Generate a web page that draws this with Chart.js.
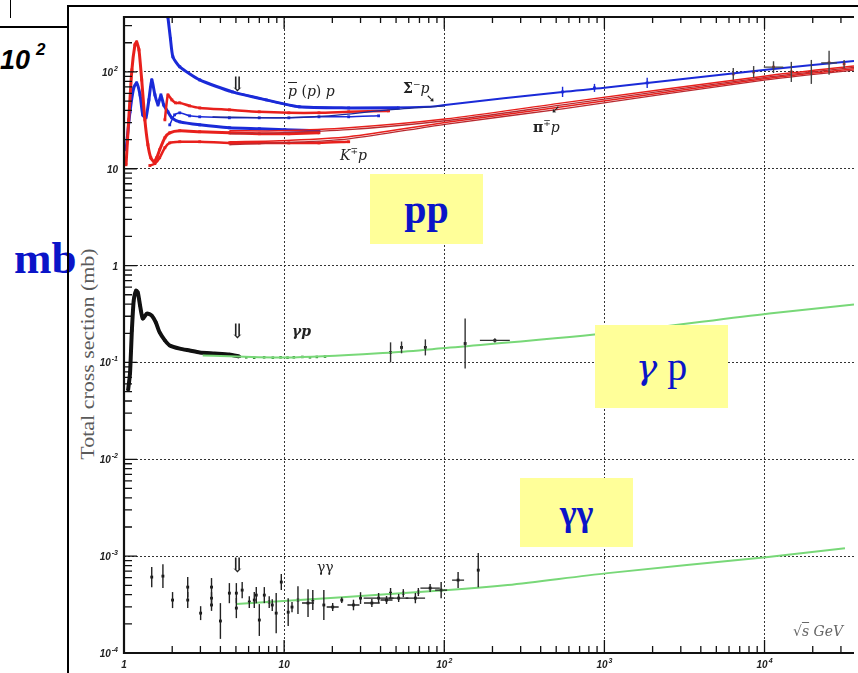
<!DOCTYPE html>
<html>
<head>
<meta charset="utf-8">
<script src="https://cdn.jsdelivr.net/npm/chart.js@4.4.1/dist/chart.umd.min.js"></script>
<style>
  body { margin: 0; background: #fff; width: 858px; height: 673px; overflow: hidden; position: relative; }
  #wrap { position: absolute; left: 0; top: 0; width: 858px; height: 673px; }
  .lbl { position: absolute; white-space: nowrap; line-height: 1; }
  .phys { font-family: "DejaVu Serif", serif; font-size: 14px; color: #222; }
  .box { position: absolute; background: #ffff99; color: #0a14c8; display: flex; align-items: center; justify-content: center; font-family: "Liberation Serif", serif; }
  .ov { text-decoration: overline; }
</style>
</head>
<body>
<div class="lbl" style="left:14px;top:232px;font:bold 45px 'Liberation Serif',serif;color:#0a14c8;">mb</div>
<div style="position:absolute;left:0;top:26px;width:67px;border-top:2px solid #000;"></div>
<div style="position:absolute;left:10px;top:0;height:18px;border-left:1px solid #000;"></div>
<div class="lbl" style="left:0;top:45px;font:bold italic 27px 'Liberation Sans',sans-serif;">10<span style="font-size:17px;position:relative;top:-14px;left:6px;">2</span></div>
<div style="position:absolute;left:67px;top:5px;width:900px;height:700px;border-left:2px solid #000;border-top:2px solid #000;"></div>
<div class="lbl" style="left:88px;top:354px;transform:translate(-50%,-50%) rotate(-90deg) scaleX(1.22);font:18px 'Liberation Serif',serif;color:#5a5a5a;">Total cross section (mb)</div>

<div id="wrap"><canvas id="chart"></canvas></div>

<div class="lbl phys" style="left:229px;top:74px;font-size:20px;">&#8659;</div>
<div class="lbl phys" style="left:229px;top:321px;font-size:20px;">&#8659;</div>
<div class="lbl phys" style="left:229px;top:555px;font-size:20px;">&#8659;</div>
<div class="lbl phys" style="left:288px;top:84px;"><i class="ov">p</i> (<i>p</i>) <i>p</i></div>
<div class="lbl phys" style="left:403px;top:80px;"><b>&Sigma;</b><sup style="font-size:9px">&minus;</sup><i>p</i></div>
<div class="lbl phys" style="left:426px;top:93px;font-size:11px;">&#10136;</div>
<div class="lbl phys" style="left:533px;top:119px;"><b>&pi;</b><sup style="font-size:9px">&#8723;</sup><i>p</i></div>
<div class="lbl phys" style="left:551px;top:104px;font-size:11px;transform:rotate(90deg);">&#10136;</div>
<div class="lbl phys" style="left:340px;top:147px;"><i>K</i><sup style="font-size:9px">&#8723;</sup><i>p</i></div>
<div class="lbl phys" style="left:292px;top:324px;font-weight:bold;font-style:italic;">&gamma;p</div>
<div class="lbl phys" style="left:317px;top:560px;">&gamma;&gamma;</div>
<div class="lbl phys" style="left:793px;top:624px;color:#666;font-style:italic;">&radic;<span class="ov">s</span> GeV</div>

<div class="box" style="left:370px;top:174px;width:113px;height:70px;font-weight:bold;font-size:40px;">pp</div>
<div class="box" style="left:595px;top:325px;width:133px;height:83px;font-size:40px;"><span style="font-family:'DejaVu Serif',serif;font-style:italic;font-size:36px;">&gamma;</span>&nbsp;p</div>
<div class="box" style="left:520px;top:478px;width:113px;height:69px;font-weight:bold;font-size:36px;">&gamma;&gamma;</div>

<script>
// axis tick values
const xTickValues = [1, 10, 100, 1000, 10000];
const yTickValues = [1e-4, 1e-3, 1e-2, 1e-1, 1, 10, 100];

// pbar p (blue, upper)
const pbarpX = [1.88, 1.95, 2.02, 2.23, 2.97, 4.75, 7.73, 12.4, 25.3, 51.7];
const pbarpY = [369, 220, 143, 113, 82.7, 62.2, 51.4, 43.6, 42.5, 42.5];
const fitBlueX = [4.75, 7.73, 12.4, 25.3, 79.6, 101, 548, 1000, 10200, 36200];
const fitBlueY = [62.2, 51.4, 43.6, 42.5, 43.6, 45.6, 62.2, 68.5, 105, 130];

// p p (blue, thin)
const ppX = [1.93, 2.07, 2.23, 2.57, 2.97, 4.55, 6.99, 10.7, 16.5, 25.3, 38.9];
const ppY = [28.4, 36.0, 37.8, 35.2, 34.4, 33.6, 33.6, 33.6, 34.4, 34.4, 35.2];
const ppFitX = [3.57, 9.31, 19.0, 44.9, 101];
const ppFitY = [34.4, 33.6, 35.2, 40.6, 44.6];

// pi- p (blue)
const pimX = [1.03, 1.09, 1.15, 1.2, 1.26, 1.31, 1.37, 1.43, 1.49, 1.56, 1.63, 1.7, 1.77, 1.88, 1.99, 2.23, 2.97, 4.55, 7.0, 10.1, 16.5];
const pimY = [15.7, 38.7, 68.4, 77, 57.9, 36, 33.6, 51.4, 82.7, 57.9, 45.6, 57.9, 45.6, 38.7, 33.6, 30.5, 28.4, 26.5, 25.9, 25.3, 24.7];

// pi+ p (red)
const pipX = [1.03, 1.07, 1.12, 1.17, 1.2, 1.24, 1.29, 1.35, 1.41, 1.47, 1.54, 1.6, 1.67, 1.8, 1.93, 2.23, 2.97, 4.55, 6.99, 10.7, 16.5];
const pipY = [11.0, 32.0, 105, 190, 204, 169, 82.7, 32, 17.7, 13.0, 11.8, 13.0, 15.7, 20.9, 23.5, 24.7, 24.1, 23.5, 23.0, 23.0, 23.5];

// K- p (red, upper) and K+ p (red, lower)
const kmX = [1.8, 1.88, 1.99, 2.1, 2.23, 2.57, 2.97, 4.55, 6.99, 10.7, 16.5, 25.3, 44.9];
const kmY = [32, 57.9, 51.4, 47.9, 47.9, 44.6, 42.5, 40.6, 38.7, 37.8, 37.8, 38.7, 39.6];
const kpX = [1.45, 1.56, 1.67, 1.8, 1.93, 2.23, 2.97, 4.55, 6.99, 10.7, 16.5, 25.3];
const kpY = [10.8, 11.3, 13.0, 16.5, 18.5, 19.0, 19.0, 18.5, 18.5, 18.5, 18.5, 19.0];

// red fits (pi and K, two each)
const redFitX = [4.55, 9.31, 25.3, 101, 548, 10200, 36200];
const piFitAY = [24.7, 24.7, 26.5, 32.6, 47.9, 91, 115.3];
const piFitBY = [23.0, 23.5, 25.3, 31.3, 45.6, 88, 111.6];
const kFitAY = [19.0, 19.5, 21.4, 30.0, 43.6, 85.6, 107.8];
const kFitBY = [17.7, 18.5, 20.4, 28.8, 41.6, 82.7, 104.2];

// high energy p p / pbar p points
const ppHiBlueX = [548, 867, 1850];
const ppHiBlueY = [62.2, 68.4, 77];
const ppHiBlueErr = [0.13, 0.1, 0.13];
const ppHiX = [6380, 8550, 11380, 14700, 19600, 25300, 31400];
const ppHiY = [95.4, 100, 112, 100, 100, 124, 121];
const ppHiErr = [0.15, 0.15, 0.15, 0.27, 0.33, 0.33, 0.1];
const ppHiErrX = [0, 0, 0.15, 0, 0, 0.12, 0];

// gamma p
const gpLowX = [1.06, 1.09, 1.12, 1.15, 1.19, 1.22, 1.26, 1.31, 1.39, 1.49, 1.58, 1.67, 1.8, 1.93, 2.23, 2.57, 2.97, 3.67, 4.55, 5.26];
const gpLowY = [0.0514, 0.077, 0.214, 0.436, 0.552, 0.527, 0.387, 0.284, 0.32, 0.305, 0.259, 0.204, 0.169, 0.15, 0.139, 0.133, 0.127, 0.124, 0.121, 0.115];
const gpMidX = [5.8, 6.5, 7.5, 8.5, 9.5, 10.5, 11.5, 13, 14.5, 16, 18];
const gpMidY = [0.113, 0.112, 0.113, 0.112, 0.113, 0.112, 0.113, 0.114, 0.113, 0.114, 0.115];
const gpFitX = [3.1, 10.3, 46.9, 91.7, 1000, 10700, 36200];
const gpFitY = [0.118, 0.1126, 0.127, 0.139, 0.199, 0.32, 0.396];
const gpHiX = [46.2, 54.1, 76.2, 135, 207];
const gpHiY = [0.127, 0.143, 0.143, 0.157, 0.169];
const gpHiErr = [0.27, 0.15, 0.21, 0.81, 0.05];
const gpHiErrX = [0, 0, 0, 0, 0.24];

// gamma gamma
const ggX = [1.49, 1.75, 2.01, 2.5, 2.5, 3.01, 3.52, 3.52, 3.52, 4.0, 4.55, 5.03, 5.03, 5.47, 6.06, 6.51, 6.7, 7.0, 7.52, 8.07, 8.43, 8.92, 9.6, 10.6, 11.2, 12.2, 14.1, 15.1, 17.7, 20.1, 22.9, 27.1, 30.0, 35.3, 38.9, 43.6, 46.2, 51.9, 55.5, 66.0, 68.9, 81.6, 95.6, 122, 163];
const ggY = [6.08e-4, 6.22e-4, 3.52e-4, 4.79e-4, 3.52e-4, 2.58e-4, 4.79e-4, 3.69e-4, 3.13e-4, 2.14e-4, 4.15e-4, 4.15e-4, 2.91e-4, 4.46e-4, 3.36e-4, 3.52e-4, 3.96e-4, 2.19e-4, 3.96e-4, 3.36e-4, 3.13e-4, 2.58e-4, 5.4e-4, 2.64e-4, 2.98e-4, 3.52e-4, 3.28e-4, 3.52e-4, 3.13e-4, 2.98e-4, 3.52e-4, 3.13e-4, 3.69e-4, 3.28e-4, 3.69e-4, 3.52e-4, 4.15e-4, 3.69e-4, 4.15e-4, 3.69e-4, 4.26e-4, 4.68e-4, 4.46e-4, 5.66e-4, 7.17e-4];
const ggErr = [0.27, 0.33, 0.21, 0.27, 0.21, 0.18, 0.24, 0.15, 0.15, 0.53, 0.27, 0.27, 0.27, 0.21, 0.15, 0.21, 0.21, 0.46, 0.21, 0.15, 0.15, 0.61, 0.21, 0.39, 0.13, 0.39, 0.39, 0.27, 0.43, 0.1, 0.07, 0.13, 0.15, 0.1, 0.13, 0.1, 0.13, 0.1, 0.1, 0.13, 0.1, 0.1, 0.21, 0.21, 0.5];
const ggErrX = [0, 0, 0, 0, 0, 0, 0, 0, 0, 0, 0, 0, 0, 0, 0, 0, 0, 0, 0, 0, 0, 0, 0, 0, 0, 0, 0.09, 0, 0, 0.09, 0, 0.09, 0, 0.12, 0.24, 0.09, 0, 0.15, 0, 0.15, 0, 0.15, 0.09, 0.09, 0];
const ggFitX = [5.03, 106, 249, 1050, 10200, 31800];
const ggFitY = [3.2e-4, 4.46e-4, 5.03e-4, 6.68e-4, 9.76e-4, 1.21e-3];

const BLUE = '#1a2ad8', DBLUE = '#1c2a9a', RED = '#e8201c', DRED = '#b82a30', GREEN = '#78d878';

function pts(xs, ys) { return xs.map((x, i) => ({x: x, y: ys[i]})); }
function fitLine(label, xs, ys, color, width) {
  return {label: label, data: pts(xs, ys), showLine: true, borderColor: color, borderWidth: width, pointRadius: 0, tension: 0.3};
}
function series(label, xs, ys, color, r, lw) {
  return {label: label, data: pts(xs, ys), showLine: lw > 0, borderColor: color, borderWidth: lw,
    pointRadius: r, pointBackgroundColor: color, pointBorderWidth: 0, pointStyle: 'rect', tension: 0.2};
}

const datasets = [
  fitLine('pi fit A', redFitX, piFitAY, RED, 1.5),
  fitLine('pi fit B', redFitX, piFitBY, DRED, 1.3),
  fitLine('K fit A', redFitX, kFitAY, RED, 1.5),
  fitLine('K fit B', redFitX, kFitBY, DRED, 1.3),
  fitLine('pp fit', ppFitX, ppFitY, DBLUE, 1.3),
  fitLine('pbar p fit', fitBlueX, fitBlueY, BLUE, 2),
  series('pi+ p', pipX, pipY, RED, 2, 3),
  series('K+ p', kpX, kpY, RED, 2, 2.5),
  series('K- p', kmX, kmY, RED, 2, 2.5),
  series('pi- p', pimX, pimY, BLUE, 2, 3),
  series('p p', ppX, ppY, BLUE, 2, 1.5),
  series('pbar p', pbarpX, pbarpY, BLUE, 2, 3),
  Object.assign(series('pp hi blue', ppHiBlueX, ppHiBlueY, BLUE, 2, 0), {errY: ppHiBlueErr, errColor: BLUE}),
  Object.assign(series('pp hi', ppHiX, ppHiY, RED, 2, 0), {errY: ppHiErr, errX: ppHiErrX, errColor: '#444'}),
  fitLine('gamma p fit', gpFitX, gpFitY, GREEN, 2),
  series('gamma p low', gpLowX, gpLowY, '#111', 2, 4),
  series('gamma p mid', gpMidX, gpMidY, '#2a8a2a', 1.8, 0),
  Object.assign(series('gamma p hi', gpHiX, gpHiY, '#111', 2, 0), {errY: gpHiErr, errX: gpHiErrX, errColor: '#333'}),
  fitLine('gamma gamma fit', ggFitX, ggFitY, GREEN, 2),
  Object.assign(series('gamma gamma', ggX, ggY, '#111', 2, 0), {errY: ggErr, errX: ggErrX, errColor: '#222'})
];

function supLabel(ctx, v, x, y, align) {
  const e = Math.round(Math.log10(v));
  const base = e === 0 ? '1' : '10';
  const sup = (e === 0 || e === 1) ? '' : String(e);
  ctx.font = 'italic bold 10px "Liberation Sans", sans-serif';
  const bw = ctx.measureText(base).width;
  ctx.font = 'italic bold 7px "Liberation Sans", sans-serif';
  const sw = sup ? ctx.measureText(sup).width + 1 : 0;
  const total = bw + sw;
  let x0 = align === 'right' ? x - total : x - total / 2;
  ctx.font = 'italic bold 10px "Liberation Sans", sans-serif';
  ctx.fillText(base, x0, y);
  if (sup) {
    ctx.font = 'italic bold 7px "Liberation Sans", sans-serif';
    ctx.fillText(sup, x0 + bw + 1, y - 5);
  }
}

const errorBars = {
  id: 'errorBars',
  afterDatasetsDraw(chart) {
    const {ctx, chartArea: a, scales: {x, y}} = chart;
    ctx.save();
    ctx.beginPath(); ctx.rect(a.left, a.top, a.right - a.left, a.bottom - a.top); ctx.clip();
    chart.data.datasets.forEach(ds => {
      if (!ds.errY) return;
      ctx.strokeStyle = ds.errColor; ctx.lineWidth = 1.4;
      ds.data.forEach((p, i) => {
        const px = x.getPixelForValue(p.x), py = y.getPixelForValue(p.y);
        const e = ds.errY[i];
        ctx.beginPath();
        if (e) { ctx.moveTo(px, y.getPixelForValue(p.y * (1 + e))); ctx.lineTo(px, y.getPixelForValue(p.y / (1 + e))); }
        const ex = ds.errX ? ds.errX[i] : 0;
        if (ex) { ctx.moveTo(x.getPixelForValue(p.x / (1 + ex)), py); ctx.lineTo(x.getPixelForValue(p.x * (1 + ex)), py); }
        ctx.stroke();
      });
    });
    ctx.restore();
  }
};

const frame = {
  id: 'frame',
  afterDraw(chart) {
    const {ctx, chartArea: a, scales: {x, y}} = chart;
    ctx.save();
    ctx.strokeStyle = '#111';
    ctx.lineWidth = 1.3;
    ctx.beginPath();
    for (let e = 0; e <= 4; e++) {
      for (let m = 1; m <= 9; m++) {
        const v = m * Math.pow(10, e);
        if (v > x.max) break;
        const px = x.getPixelForValue(v);
        if (px < a.left + 2) continue;
        const L = m === 1 ? 13 : 7;
        ctx.moveTo(px, a.bottom); ctx.lineTo(px, a.bottom - L);
        ctx.moveTo(px, a.top); ctx.lineTo(px, a.top + L - 1);
      }
    }
    for (let e = -4; e <= 2; e++) {
      for (let m = 1; m <= 9; m++) {
        const v = m * Math.pow(10, e);
        if (v > y.max) break;
        const py = y.getPixelForValue(v);
        if (py > a.bottom - 2) continue;
        const L = m === 1 ? 13 : 8;
        ctx.moveTo(a.left, py); ctx.lineTo(a.left + L, py);
      }
    }
    ctx.stroke();
    ctx.lineWidth = 2.2;
    ctx.beginPath();
    ctx.moveTo(a.right, a.top); ctx.lineTo(a.left, a.top); ctx.lineTo(a.left, a.bottom); ctx.lineTo(a.right, a.bottom);
    ctx.stroke();
    ctx.fillStyle = '#222';
    ctx.textBaseline = 'alphabetic';
    xTickValues.forEach(v => supLabel(ctx, v, x.getPixelForValue(v), a.bottom + 15, 'center'));
    yTickValues.forEach(v => supLabel(ctx, v, a.left - 6, y.getPixelForValue(v) + 4, 'right'));
    ctx.restore();
  }
};

new Chart(document.getElementById('chart'), {
  type: 'scatter',
  data: {datasets: datasets},
  options: {
    responsive: true,
    maintainAspectRatio: false,
    animation: false,
    events: [],
    layout: {padding: {top: 17, right: 0, bottom: 0, left: 0}},
    plugins: {legend: {display: false}, tooltip: {enabled: false}},
    scales: {
      x: {
        type: 'logarithmic', min: 1, max: 36200,
        afterBuildTicks: s => { s.ticks = xTickValues.map(v => ({value: v})); },
        afterFit: s => { s.height = 20; },
        ticks: {display: false},
        grid: {color: '#333', lineWidth: 1, drawTicks: false},
        border: {display: false, dash: [2, 2]}
      },
      y: {
        type: 'logarithmic', min: 1e-4, max: 369,
        afterBuildTicks: s => { s.ticks = yTickValues.map(v => ({value: v})); },
        afterFit: s => { s.width = 124; },
        ticks: {display: false},
        grid: {color: '#333', lineWidth: 1, drawTicks: false},
        border: {display: false, dash: [2, 2]}
      }
    }
  },
  plugins: [errorBars, frame]
});
</script>
</body>
</html>
